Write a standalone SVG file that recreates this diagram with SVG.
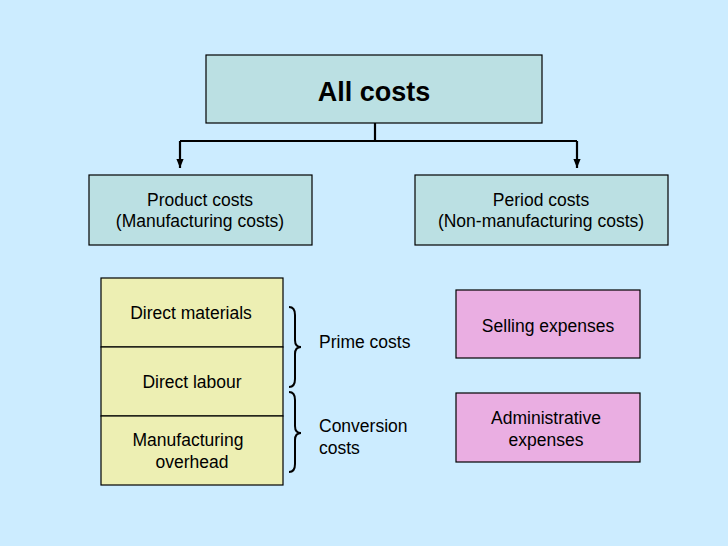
<svg xmlns="http://www.w3.org/2000/svg" width="728" height="546" viewBox="0 0 728 546">
<style>
text{font-family:"Liberation Sans",Arial,sans-serif;font-size:17.5px;fill:#000;text-anchor:middle}
.t{fill:#BBE0E3;stroke:#000;stroke-width:1.2}
.y{fill:#EDEFB3;stroke:#000;stroke-width:1.2}
.p{fill:#EAAEE2;stroke:#000;stroke-width:1.2}
.c{fill:none;stroke:#000;stroke-width:2.2}
.b{fill:none;stroke:#000;stroke-width:2}
</style>
<defs>
<marker id="ah" viewBox="0 0 10 10" refX="10" refY="5" markerWidth="9" markerHeight="9" markerUnits="userSpaceOnUse" orient="auto">
<path d="M0,1 L10,5 L0,9 z" fill="#000"/>
</marker>
</defs>
<rect width="728" height="546" fill="#CCECFF"/>
<g id="connectors">
<path class="c" d="M375,123 V141"/>
<path class="c" d="M180,141 H577"/>
<path class="c" d="M180,141 V168" marker-end="url(#ah)"/>
<path class="c" d="M577,141 V168" marker-end="url(#ah)"/>
</g>
<g id="all-costs">
<rect class="t" x="206" y="55" width="336" height="68"/>
<text x="374" y="101" style="font-size:27px;font-weight:bold">All costs</text>
</g>
<g id="product-costs">
<rect class="t" x="89" y="175" width="223" height="70"/>
<text x="200" y="206">Product costs</text>
<text x="200" y="227">(Manufacturing costs)</text>
</g>
<g id="period-costs">
<rect class="t" x="415" y="175" width="253" height="70"/>
<text x="541" y="206">Period costs</text>
<text x="541" y="227">(Non-manufacturing costs)</text>
</g>
<g id="direct-materials">
<rect class="y" x="101" y="278" width="182" height="69"/>
<text x="191" y="319">Direct materials</text>
</g>
<g id="direct-labour">
<rect class="y" x="101" y="347" width="182" height="69"/>
<text x="192" y="388">Direct labour</text>
</g>
<g id="manufacturing-overhead">
<rect class="y" x="101" y="416" width="182" height="69"/>
<text x="188" y="446">Manufacturing</text>
<text x="192" y="468">overhead</text>
</g>
<g id="prime-costs">
<path class="b" d="M289,307 Q295,307 295,315 L295,340 Q295,347 301,347 Q295,347 295,354 L295,379 Q295,387 289,387"/>
<text x="319" y="348" style="text-anchor:start">Prime costs</text>
</g>
<g id="conversion-costs">
<path class="b" d="M289,392 Q295,392 295,400 L295,426 Q295,433 301,433 Q295,433 295,440 L295,464 Q295,472 289,472"/>
<text x="319" y="432" style="text-anchor:start">Conversion</text>
<text x="319" y="454" style="text-anchor:start">costs</text>
</g>
<g id="selling-expenses">
<rect class="p" x="456" y="290" width="184" height="68"/>
<text x="548" y="332">Selling expenses</text>
</g>
<g id="administrative-expenses">
<rect class="p" x="456" y="393" width="184" height="69"/>
<text x="546" y="424">Administrative</text>
<text x="546" y="446">expenses</text>
</g>
</svg>
